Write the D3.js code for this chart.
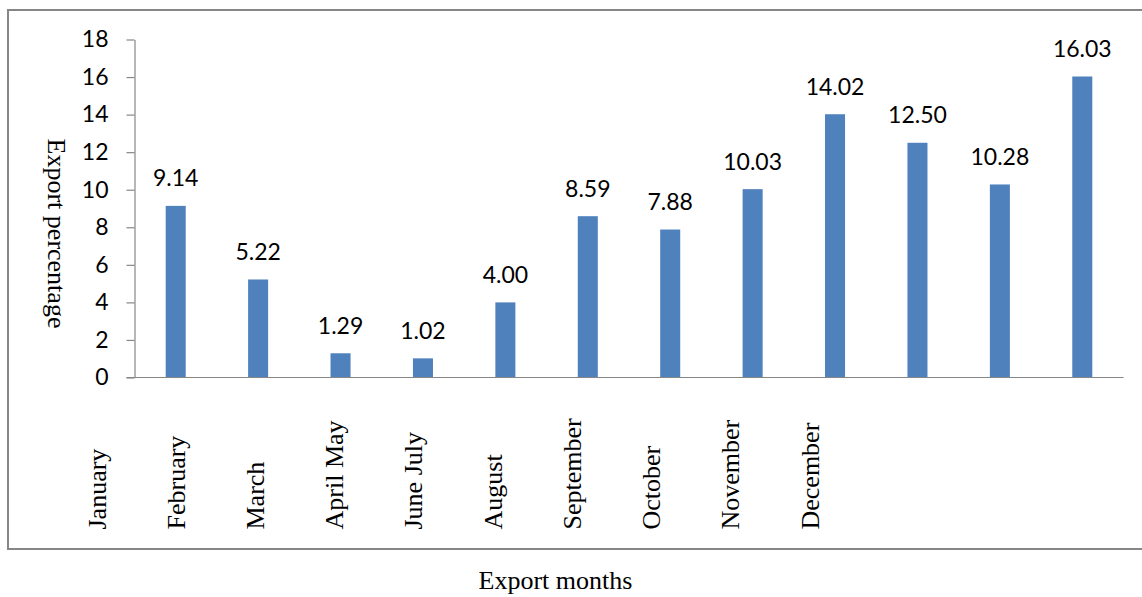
<!DOCTYPE html>
<html>
<head>
<meta charset="utf-8">
<script src="https://cdn.jsdelivr.net/npm/d3@7"></script>
<style>
  html, body { margin: 0; padding: 0; background: #fff; }
  svg { display: block; }
</style>
</head>
<body>
<svg id="chart" width="1142" height="597"></svg>
<script>
// ---- Data ----
const values = [9.14, 5.22, 1.29, 1.02, 4.00, 8.59, 7.88, 10.03, 14.02, 12.50, 10.28, 16.03];
const valueLabels = ["9.14", "5.22", "1.29", "1.02", "4.00", "8.59", "7.88", "10.03", "14.02", "12.50", "10.28", "16.03"];
const monthLabels = ["January", "February", "March", "April May", "June July", "August",
                     "September", "October", "November", "December"];
const yTicks = [0, 2, 4, 6, 8, 10, 12, 14, 16, 18];
const xTitle = "Export months";
const yTitle = "Export percentage";

// ---- Layout ----
const plot = { left: 134.5, right: 1123.5, top: 39.5, bottom: 377.5 };
const serif = "'Liberation Serif', 'Times New Roman', serif";
const sans = "Lato, 'Open Sans', sans-serif";
const grey = "#868686";
const barColor = "#4F81BD";

const svg = d3.select("#chart");

// outer frame
svg.append("rect")
  .attr("x", 8).attr("y", 10)
  .attr("width", 1150).attr("height", 539)
  .attr("fill", "none").attr("stroke", grey).attr("stroke-width", 2);

const x = d3.scaleBand()
  .domain(values.map((d, i) => i))
  .range([plot.left, plot.right])
  .paddingInner(0.757)
  .paddingOuter(0.3785);

const y = d3.scaleLinear().domain([0, 18]).range([plot.bottom, plot.top]);

// label positions (offset from bars as in the reference)
const xl = d3.scalePoint().domain(monthLabels).range([97, 810]);

// bars
svg.append("g").selectAll("rect")
  .data(values)
  .join("rect")
  .attr("x", (d, i) => x(i))
  .attr("y", d => y(d))
  .attr("width", x.bandwidth())
  .attr("height", d => y(0) - y(d))
  .attr("fill", barColor);

// value labels
svg.append("g").selectAll("text")
  .data(values)
  .join("text")
  .attr("x", (d, i) => x(i) + x.bandwidth() / 2)
  .attr("y", d => y(d) - 19.5)
  .attr("text-anchor", "middle")
  .attr("font-family", sans)
  .attr("font-size", 23)
  .attr("fill", "#000")
  .text((d, i) => valueLabels[i]);

// y axis
const yAxis = svg.append("g")
  .attr("transform", `translate(${plot.left},0)`)
  .call(d3.axisLeft(y).tickValues(yTicks).tickSize(8).tickSizeOuter(0).tickPadding(18)
    .tickFormat(d3.format("d")));
yAxis.selectAll("path, line").attr("stroke", grey).attr("stroke-width", 1.2);
yAxis.selectAll("text")
  .attr("font-family", sans).attr("font-size", 23).attr("fill", "#000");

// x axis line
svg.append("line")
  .attr("x1", plot.left - 8).attr("x2", plot.right)
  .attr("y1", y(0)).attr("y2", y(0))
  .attr("stroke", grey).attr("stroke-width", 1.2);

// x labels (rotated)
svg.append("g").selectAll("text")
  .data(monthLabels)
  .join("text")
  .attr("transform", d => `translate(${xl(d)},529.5) rotate(-90)`)
  .attr("dy", "0.33em")
  .attr("text-anchor", "start")
  .attr("font-family", serif)
  .attr("font-size", 26)
  .attr("fill", "#000")
  .text(d => d);

// axis titles
svg.append("text")
  .attr("x", 555.5).attr("y", 589)
  .attr("text-anchor", "middle")
  .attr("font-family", serif).attr("font-size", 26).attr("fill", "#000")
  .text(xTitle);

svg.append("text")
  .attr("transform", "translate(48,233.5) rotate(90)")
  .attr("text-anchor", "middle")
  .attr("font-family", serif).attr("font-size", 26).attr("fill", "#000")
  .text(yTitle);
</script>
</body>
</html>
